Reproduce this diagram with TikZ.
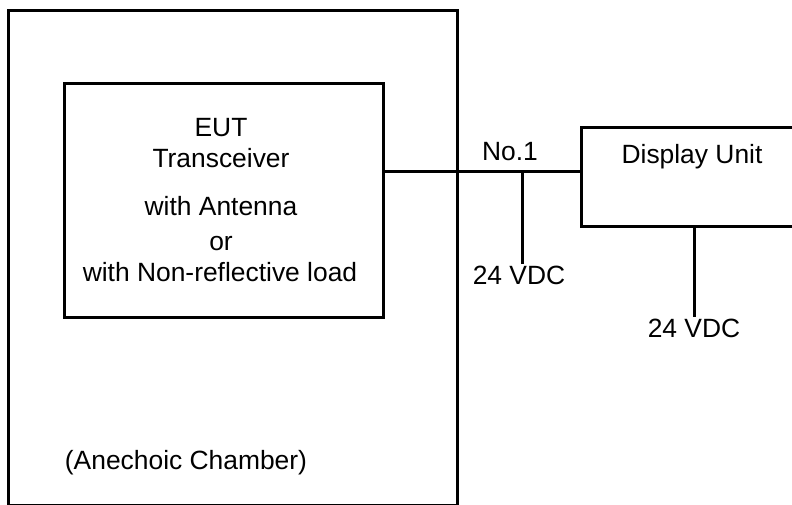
\documentclass[tikz,border=0pt]{standalone}
\usepackage{fontspec}
\setmainfont{Liberation Sans}
\begin{document}
\begin{tikzpicture}[x=1bp,y=-1bp,
  box/.style={draw=black,line width=3bp,inner sep=0pt,outer sep=0pt,fill=none},
  wire/.style={draw=black,line width=3bp},
  txt/.style={inner sep=0pt,outer sep=0pt,anchor=base,font=\fontsize{26.5}{30}\selectfont}]
\useasboundingbox (0,0) rectangle (792,505);
\clip (0,0) rectangle (792,505);
\fill[white] (0,0) rectangle (792,505);
% boxes
\node[box,minimum width=448bp,minimum height=494bp] (chamber) at (233,258) {};
\node[box,minimum width=318bp,minimum height=233bp] (eut) at (224,200.5) {};
\node[box,minimum width=250bp,minimum height=99bp] (disp) at (706,177.5) {};
% texts
\node[txt] (t1) at (221,137) {EUT};
\node[txt] (t2) at (221,168) {Transceiver};
\node[txt] (t3) at (221,216) {with Antenna};
\node[txt] (t4) at (221,251) {or};
\node[txt] (t5) at (220,282) {with Non-reflective load};
\node[txt] (t6) at (186,469) {(Anechoic Chamber)};
\node[txt] (no1) at (510,161) {No.1};
\node[txt] (dlab) at (692,164) {Display Unit};
\node[txt] (v1) at (519,285) {24 VDC};
\node[txt] (v2) at (694,337) {24 VDC};
% connectors
\coordinate (j) at (522,172);
\coordinate (e1) at (522,264);
\coordinate (e2) at (694,317);
\draw[wire] (eut.east |- j) -- (disp.west |- j);
\draw[wire] (j) -- (e1);
\draw[wire] (disp.south -| e2) -- (e2);
\end{tikzpicture}
\end{document}
